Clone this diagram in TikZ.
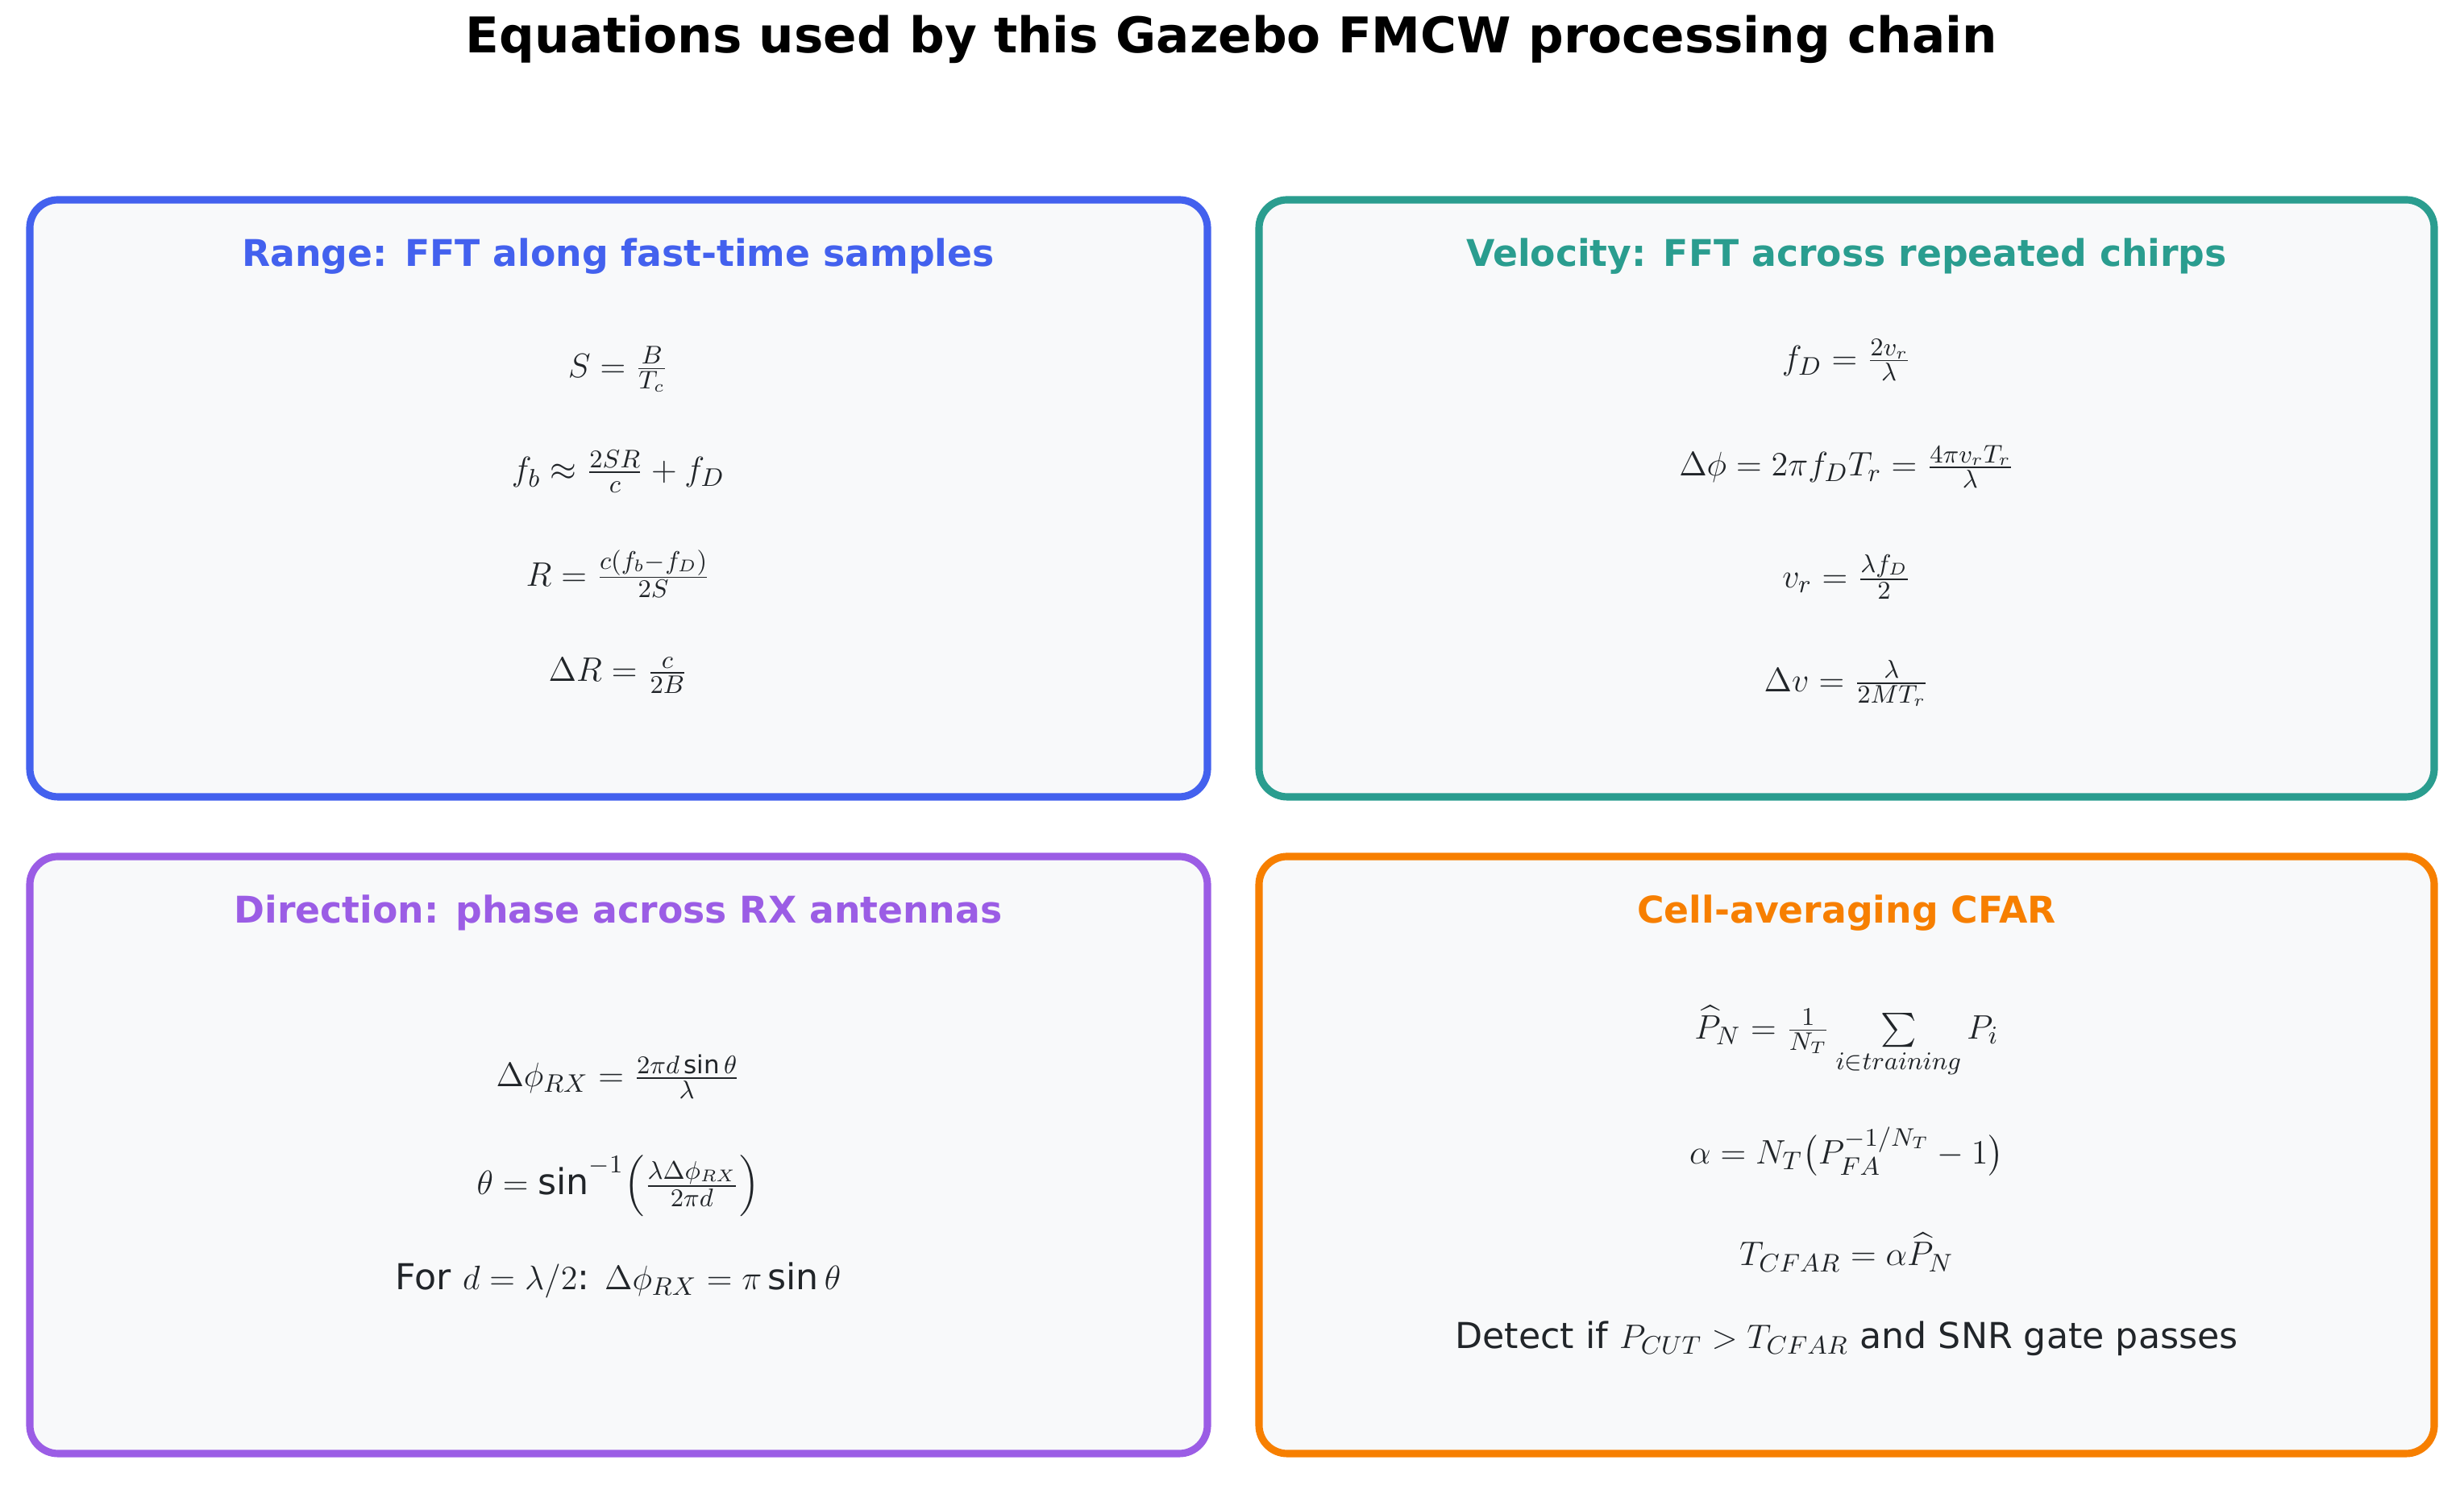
\documentclass[tikz,border=0pt]{standalone}
\usepackage{amsmath}
\usepackage{fontspec}
\setmainfont{DejaVu Sans}
\setsansfont{DejaVu Sans}
\definecolor{rangeblue}{HTML}{4361EE}
\definecolor{velteal}{HTML}{2A9D8F}
\definecolor{dirpurple}{HTML}{9B5DE5}
\definecolor{cfarorange}{HTML}{F77F00}
\definecolor{panelfill}{HTML}{F8F9FA}
\definecolor{eqtext}{HTML}{212529}
\tikzset{
  panel/.style={draw=#1,line width=2.6pt,fill=panelfill,rounded corners=0.35cm},
  paneltitle/.style={text=#1,font=\bfseries\fontsize{13}{16}\selectfont},
  eq/.style={text=eqtext,font=\fontsize{12.6}{15}\selectfont}
}
\begin{document}
\begin{tikzpicture}
  \useasboundingbox (0,0) rectangle (30.57,18.43);
  \node[font=\bfseries\fontsize{17.4}{21}\selectfont] (title) at (15.28,17.94)
    {Equations used by this Gazebo FMCW processing chain};

  % panels
  \draw[panel=rangeblue]  (0.37,8.54) rectangle (14.98,15.95);
  \draw[panel=velteal]    (15.62,8.54) rectangle (30.20,15.95);
  \draw[panel=dirpurple]  (0.37,0.39) rectangle (14.98,7.80);
  \draw[panel=cfarorange] (15.62,0.39) rectangle (30.20,7.80);

  % range
  \node[paneltitle=rangeblue] (rtitle) at (7.67,15.25) {Range: FFT along fast-time samples};
  \node[eq] (r1) at (7.67,13.85) {$S=\frac{B}{T_c}$};
  \node[eq] (r2) at (7.67,12.58) {$f_b\approx\frac{2SR}{c}+f_D$};
  \node[eq] (r3) at (7.67,11.31) {$R=\frac{c(f_b-f_D)}{2S}$};
  \node[eq] (r4) at (7.67,10.05) {$\Delta R=\frac{c}{2B}$};

  % velocity
  \node[paneltitle=velteal] (vtitle) at (22.91,15.25) {Velocity: FFT across repeated chirps};
  \node[eq] (v1) at (22.91,13.96) {$f_D=\frac{2v_r}{\lambda}$};
  \node[eq] (v2) at (22.91,12.64) {$\Delta\phi=2\pi f_DT_r=\frac{4\pi v_rT_r}{\lambda}$};
  \node[eq] (v3) at (22.91,11.27) {$v_r=\frac{\lambda f_D}{2}$};
  \node[eq] (v4) at (22.91,9.95) {$\Delta v=\frac{\lambda}{2MT_r}$};

  % direction
  \node[paneltitle=dirpurple] (dtitle) at (7.67,7.10) {Direction: phase across RX antennas};
  \node[eq] (d1) at (7.67,5.07) {$\Delta\phi_{RX}=\frac{2\pi d\sin\theta}{\lambda}$};
  \node[eq] (d2) at (7.67,3.71) {$\theta=\sin^{-1}\!\left(\frac{\lambda\Delta\phi_{RX}}{2\pi d}\right)$};
  \node[eq] (d3) at (7.67,2.54) {For $d=\lambda/2$: $\Delta\phi_{RX}=\pi\sin\theta$};

  % cfar
  \node[paneltitle=cfarorange] (ctitle) at (22.91,7.10) {Cell-averaging CFAR};
  \node[eq] (c1) at (22.91,5.50) {$\widehat{P}_N=\frac{1}{N_T}\sum\limits_{i\in training}P_i$};
  \node[eq] (c2) at (22.91,4.14) {$\alpha=N_T\bigl(P_{FA}^{-1/N_T}-1\bigr)$};
  \node[eq] (c3) at (22.91,2.89) {$T_{CFAR}=\alpha\widehat{P}_N$};
  \node[eq] (c4) at (22.91,1.82) {Detect if $P_{CUT}>T_{CFAR}$ and SNR gate passes};
\end{tikzpicture}
\end{document}
